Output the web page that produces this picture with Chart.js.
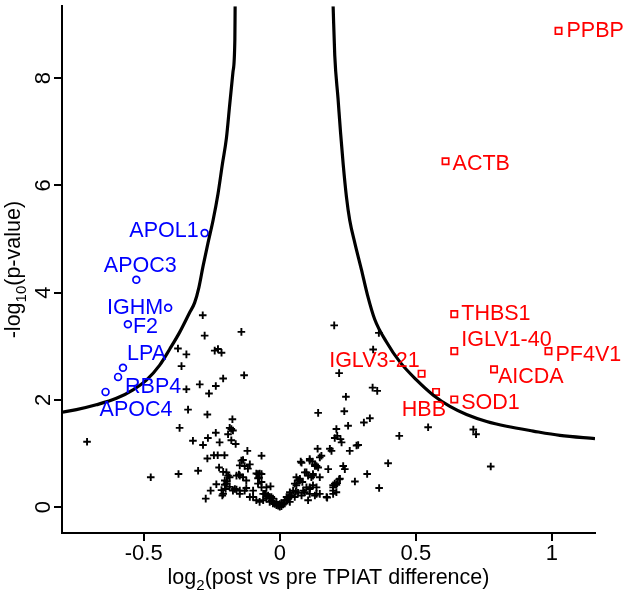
<!DOCTYPE html>
<html>
<head>
<meta charset="utf-8">
<script src="https://cdn.jsdelivr.net/npm/chart.js@4.4.0/dist/chart.umd.min.js"></script>
<style>
html, body { margin: 0; padding: 0; background: #fff; }
#wrap { width: 625px; height: 594px; position: relative; }
</style>
</head>
<body>
<div id="wrap"><canvas id="volcanoChart"></canvas></div>
<script>
// axis ticks
const xTicks = [-0.5, 0, 0.5, 1];
const xTickLabels = ['-0.5', '0', '0.5', '1'];
const yTicks = [0, 2, 4, 6, 8];
const yTickLabels = ['0', '2', '4', '6', '8'];

// significant up (red squares)
const upGenes = ['PPBP', 'ACTB', 'THBS1', 'IGLV1-40', 'PF4V1', 'IGLV3-21', 'AICDA', 'HBB', 'SOD1'];
const upX = [1.024, 0.609, 0.641, 0.641, 0.987, 0.521, 0.787, 0.574, 0.641];
const upY = [8.88, 6.45, 3.60, 2.91, 2.91, 2.49, 2.57, 2.15, 2.01];

// significant down (blue circles)
const downGenes = ['APOL1', 'APOC3', 'IGHM', 'F2', 'LPA', 'RBP4', 'APOC4'];
const downX = [-0.276, -0.527, -0.410, -0.558, -0.576, -0.594, -0.640];
const downY = [5.11, 4.24, 3.72, 3.41, 2.60, 2.43, 2.15];

// all other proteins (black crosses)
const otherX = [
  -0.708, -0.474, -0.372, -0.300, -0.283, -0.276, -0.141, -0.374, -0.343, -0.361,
  -0.239, -0.227, -0.214, -0.294, -0.260, -0.235, -0.208, -0.131, -0.343, -0.337,
  -0.266, -0.368, -0.174, -0.184, -0.172, -0.190, -0.178, -0.162, -0.235, -0.264,
  -0.282, -0.221, -0.319, -0.119, -0.266, -0.242, -0.228, -0.203, -0.067, -0.141,
  -0.147, -0.129, -0.110, -0.117, -0.223, -0.196, -0.190, -0.184, -0.202, -0.147,
  -0.135, -0.159, -0.080, -0.067, -0.080, -0.067, -0.080, -0.123, -0.272, -0.254,
  -0.233, -0.214, -0.196, -0.184, -0.172, -0.147, -0.129, -0.110, -0.086, -0.098,
  -0.067, -0.061, -0.049, -0.037, -0.025, -0.012, 0.000, -0.194, -0.199, -0.211,
  -0.159, -0.123, -0.147, -0.049, -0.034, -0.051, -0.037, -0.025, -0.012, 0.000,
  -0.165, -0.202, -0.208, -0.098, -0.074, -0.061, -0.055, -0.043, -0.031, -0.178,
  -0.135, -0.208, -0.150, -0.086, -0.074, -0.076, -0.018, -0.006, -0.030, 0.006,
  0.012, 0.018, 0.006, 0.030,
  0.025, 0.037, 0.049, 0.086, 0.110, 0.135, 0.104, 0.141, 0.080, 0.110,
  0.129, 0.098, 0.122, 0.055, 0.074, 0.025, 0.037, 0.061, 0.067, 0.055,
  0.237, 0.208, 0.251, 0.202, 0.223, 0.227, 0.282, 0.257, 0.139, 0.147,
  0.153, 0.190, 0.184, 0.077, 0.110, 0.120, 0.135, 0.141, 0.129, 0.178,
  0.233, 0.239, 0.092, 0.104, 0.122, 0.147, 0.116, 0.061, 0.074, 0.083,
  0.218, 0.208, 0.196, 0.276, 0.208, 0.196, 0.172, 0.098, 0.110, 0.122,
  0.135, 0.147, 0.129, 0.110, 0.092, 0.080, 0.067, 0.059, 0.043, 0.031,
  0.018, 0.037, 0.200, 0.364, 0.343, 0.218, 0.341, 0.358, 0.243, 0.331,
  0.309, 0.545, 0.439, 0.711, 0.721, 0.288, 0.398, 0.321, 0.365, 0.775,
  0.202, 0.174, 0.211, 0.221, 0.211, 0.196, 0.196
];
const otherY = [
  1.22, 0.56, 0.62, 0.68, 3.58, 3.20, 3.27, 2.96, 2.85, 2.63,
  2.92, 2.95, 2.88, 2.29, 2.12, 2.26, 2.40, 2.46, 2.20, 1.82,
  1.73, 1.48, 1.64, 1.48, 1.43, 1.36, 1.25, 1.18, 1.39, 1.29,
  1.16, 1.21, 1.24, 1.05, 0.91, 0.97, 0.97, 0.97, 0.96, 0.87,
  0.78, 0.77, 0.80, 0.72, 0.74, 0.65, 0.59, 0.56, 0.50, 0.59,
  0.56, 0.59, 0.62, 0.62, 0.54, 0.47, 0.44, 0.50, 0.16, 0.31,
  0.43, 0.32, 0.44, 0.38, 0.31, 0.31, 0.31, 0.19, 0.13, 0.31,
  0.37, 0.25, 0.16, 0.10, 0.07, 0.04, 0.01, 0.48, 0.34, 0.22,
  0.33, 0.36, 0.25, 0.37, 0.39, 0.25, 0.19, 0.16, 0.10, 0.06,
  0.34, 0.42, 0.25, 0.19, 0.10, 0.13, 0.25, 0.22, 0.19, 1.46,
  0.88, 0.66, 0.61, 0.63, 0.63, 0.55, 0.06, 0.03, 0.12, 0.02,
  0.05, 0.07, 0.08, 0.15,
  0.19, 0.28, 0.31, 0.31, 0.37, 0.25, 0.13, 1.76, 0.83, 0.87,
  0.77, 0.65, 0.59, 0.44, 0.50, 0.13, 0.22, 0.41, 0.50, 0.19,
  1.79, 1.46, 1.52, 1.29, 1.27, 1.21, 1.15, 1.05, 1.09, 0.93,
  0.96, 1.05, 1.09, 0.85, 0.90, 0.85, 0.77, 0.74, 0.80, 0.71,
  0.77, 0.71, 0.65, 0.59, 0.62, 0.56, 0.56, 0.56, 0.53, 0.47,
  0.52, 0.42, 0.41, 0.48, 0.28, 0.25, 0.19, 0.37, 0.34, 0.41,
  0.37, 0.25, 0.22, 0.25, 0.28, 0.22, 0.27, 0.29, 0.22, 0.19,
  0.13, 0.10, 3.39, 3.25, 2.94, 2.50, 2.23, 2.17, 2.06, 1.66,
  1.58, 1.49, 1.33, 1.45, 1.36, 1.16, 0.82, 0.62, 0.36, 0.76,
  0.44, 0.18, 1.33, 0.53, 0.45, 0.37, 0.31
];

// threshold curves
const leftCurveX = [-0.800, -0.747, -0.674, -0.600, -0.539, -0.490, -0.441, -0.404, -0.368, -0.331,
  -0.313, -0.297, -0.282, -0.264, -0.245, -0.227, -0.211, -0.196, -0.184, -0.172, -0.165, -0.164];
const leftCurveY = [1.77, 1.82, 1.91, 2.03, 2.19, 2.37, 2.65, 2.95, 3.26, 3.63,
  3.81, 4.10, 4.49, 4.92, 5.35, 5.84, 6.39, 6.88, 7.50, 8.11, 8.72, 9.34];
const rightCurveX = [0.196, 0.202, 0.214, 0.223, 0.233, 0.245, 0.257, 0.276, 0.300, 0.322, 0.349,
  0.392, 0.441, 0.503, 0.564, 0.625, 0.686, 0.760, 0.833, 0.931, 1.029, 1.158];
const rightCurveY = [9.34, 8.42, 7.62, 7.00, 6.39, 5.78, 5.35, 4.92, 4.43, 3.96, 3.50,
  3.08, 2.71, 2.37, 2.09, 1.88, 1.73, 1.60, 1.51, 1.42, 1.34, 1.28];

// label placement relative to the marker: [dx, dy, align]
const labelOffsets = {
  'PPBP': [8, 0, 'left'], 'ACTB': [7, 3, 'left'], 'THBS1': [7, 0, 'left'],
  'IGLV1-40': [7, -11, 'left'], 'PF4V1': [7, 4, 'left'], 'IGLV3-21': [-2, -13, 'right'],
  'AICDA': [4, 8, 'left'], 'HBB': [10, 18, 'right'], 'SOD1': [7, 4, 'left'],
  'APOL1': [-6, -2, 'right'], 'APOC3': [4, -14, 'center'], 'IGHM': [-5, 0, 'right'],
  'F2': [5, 3, 'left'], 'LPA': [4, -14, 'left'], 'RBP4': [7, 10, 'left'], 'APOC4': [-6, 18, 'left']
};

const FONT = '"Liberation Sans", Arial, sans-serif';

function toPoints(xs, ys) {
  return xs.map((x, i) => ({ x: x, y: ys[i] }));
}

// draws text with subscript parts, centred at (0,0) of current transform
function drawSubText(ctx, parts, size) {
  const subSize = Math.round(size * 0.7);
  let total = 0;
  parts.forEach(p => {
    ctx.font = (p.sub ? subSize : size) + 'px ' + FONT;
    p.w = ctx.measureText(p.t).width;
    total += p.w;
  });
  let x = -total / 2;
  ctx.textAlign = 'left';
  ctx.textBaseline = 'alphabetic';
  parts.forEach(p => {
    ctx.font = (p.sub ? subSize : size) + 'px ' + FONT;
    ctx.fillText(p.t, x, p.sub ? size * 0.3 : 0);
    x += p.w;
  });
}

const textPlugin = {
  id: 'volcanoText',
  afterDraw(chart) {
    const ctx = chart.ctx;
    const xs = chart.scales.x;
    const ys = chart.scales.y;
    ctx.save();
    ctx.fillStyle = '#000';
    ctx.font = '22px ' + FONT;

    // x tick labels
    ctx.textAlign = 'center';
    ctx.textBaseline = 'alphabetic';
    xTicks.forEach((v, i) => {
      ctx.fillText(xTickLabels[i], xs.getPixelForValue(v), xs.top + 27);
    });

    // y tick labels (rotated)
    yTicks.forEach((v, i) => {
      ctx.save();
      ctx.translate(ys.right - 12, ys.getPixelForValue(v));
      ctx.rotate(-Math.PI / 2);
      ctx.textAlign = 'center';
      ctx.textBaseline = 'alphabetic';
      ctx.fillText(yTickLabels[i], 0, 0);
      ctx.restore();
    });

    // axis titles
    ctx.save();
    ctx.translate((xs.left + xs.right) / 2, xs.top + 51);
    drawSubText(ctx, [{ t: 'log' }, { t: '2', sub: true }, { t: '(post vs pre TPIAT difference)' }], 21.5);
    ctx.restore();

    ctx.save();
    ctx.translate(20, (ys.top + ys.bottom) / 2);
    ctx.rotate(-Math.PI / 2);
    drawSubText(ctx, [{ t: '-log' }, { t: '10', sub: true }, { t: '(p-value)' }], 21.5);
    ctx.restore();

    // gene labels
    ctx.font = '21.5px ' + FONT;
    ctx.textBaseline = 'middle';
    const groups = [
      { idx: 2, names: upGenes, color: '#ff0000' },
      { idx: 3, names: downGenes, color: '#0000ff' }
    ];
    groups.forEach(g => {
      const meta = chart.getDatasetMeta(g.idx);
      ctx.fillStyle = g.color;
      meta.data.forEach((pt, i) => {
        const name = g.names[i];
        const off = labelOffsets[name];
        ctx.textAlign = off[2];
        ctx.fillText(name, pt.x + off[0], pt.y + off[1]);
      });
    });
    ctx.restore();
  }
};

const ctx = document.getElementById('volcanoChart').getContext('2d');
new Chart(ctx, {
  type: 'scatter',
  data: {
    datasets: [
      {
        label: 'threshold left',
        data: toPoints(leftCurveX, leftCurveY),
        showLine: true,
        borderColor: '#000',
        borderWidth: 3.2,
        pointRadius: 0,
        cubicInterpolationMode: 'monotone',
        fill: false
      },
      {
        label: 'threshold right',
        data: toPoints(rightCurveX, rightCurveY),
        showLine: true,
        borderColor: '#000',
        borderWidth: 3.2,
        pointRadius: 0,
        cubicInterpolationMode: 'monotone',
        fill: false
      },
      {
        label: 'up',
        data: toPoints(upX, upY),
        pointStyle: 'rect',
        pointRadius: 4.5,
        borderColor: '#ff0000',
        backgroundColor: 'rgba(0,0,0,0)',
        borderWidth: 1.7
      },
      {
        label: 'down',
        data: toPoints(downX, downY),
        pointStyle: 'circle',
        pointRadius: 3.4,
        borderColor: '#0000ff',
        backgroundColor: 'rgba(0,0,0,0)',
        borderWidth: 1.7
      },
      {
        label: 'other',
        data: toPoints(otherX, otherY),
        pointStyle: 'cross',
        pointRadius: 3.8,
        borderColor: '#000',
        borderWidth: 1.9
      }
    ]
  },
  options: {
    responsive: true,
    maintainAspectRatio: false,
    animation: false,
    layout: { padding: { top: 0, right: 30, left: 0, bottom: 0 } },
    plugins: {
      legend: { display: false },
      tooltip: { enabled: false }
    },
    scales: {
      x: {
        type: 'linear',
        min: -0.8,
        max: 1.158,
        afterBuildTicks: s => { s.ticks = xTicks.map(v => ({ value: v })); },
        afterFit: s => { s.height = 61; },
        grid: { drawOnChartArea: false, drawTicks: true, tickLength: 8, color: '#000', lineWidth: 2 },
        border: { display: true, color: '#000', width: 2 },
        ticks: { display: false }
      },
      y: {
        type: 'linear',
        min: -0.48,
        max: 9.34,
        afterBuildTicks: s => { s.ticks = yTicks.map(v => ({ value: v })); },
        afterFit: s => { s.width = 62; },
        grid: { drawOnChartArea: false, drawTicks: true, tickLength: 8, color: '#000', lineWidth: 2 },
        border: { display: true, color: '#000', width: 2 },
        ticks: { display: false }
      }
    }
  },
  plugins: [textPlugin]
});
</script>
</body>
</html>
